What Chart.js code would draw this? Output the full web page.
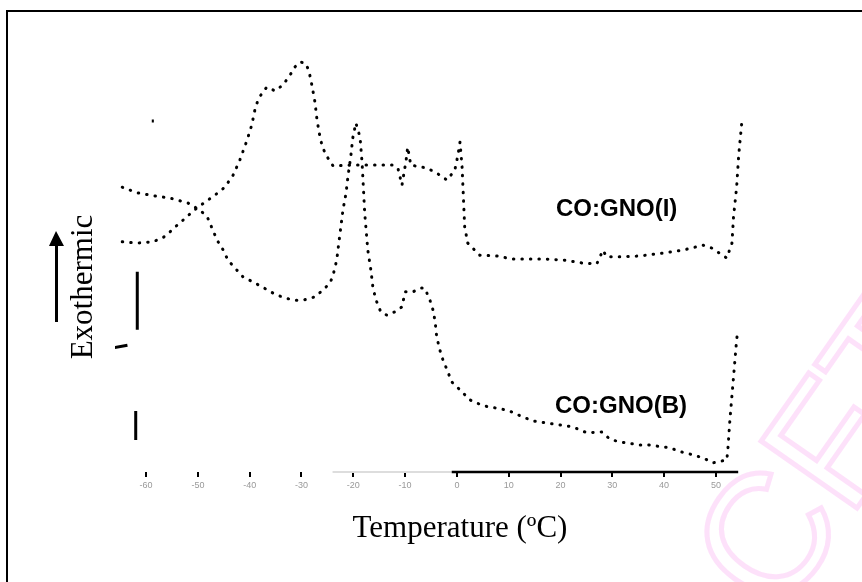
<!DOCTYPE html>
<html>
<head>
<meta charset="utf-8">
<script src="https://cdn.jsdelivr.net/npm/chart.js@4/dist/chart.umd.min.js"></script>
<style>
  html, body { margin: 0; padding: 0; background: #fff; overflow: hidden; }
  #wrap { position: relative; width: 862px; height: 582px; }
  #frame { position: absolute; left: 6px; top: 10px; width: 900px; height: 640px; border: 2px solid #000; box-sizing: border-box; }
  canvas { position: absolute; left: 0; top: 0; }
  .lbl { position: absolute; font-family: Arial, "Liberation Sans", sans-serif; font-weight: bold; font-size: 24px; color: #000; white-space: nowrap; }
  .serif { position: absolute; font-family: "Times New Roman", "Liberation Serif", serif; font-size: 31px; color: #000; white-space: nowrap; }
  #ylab { left: 82px; top: 287px; transform: translate(-50%, -50%) rotate(-90deg); }
  #xlab { left: 460px; top: 527px; transform: translate(-50%, -50%); }
  #arrow { position: absolute; left: 55px; top: 244px; width: 3px; height: 78px; background: #000; }
  #head { position: absolute; left: 49px; top: 231px; width: 0; height: 0; border-left: 7px solid transparent; border-right: 8px solid transparent; border-bottom: 15px solid #000; }
  #wm { position: absolute; left: 650px; top: 530px; font-family: Arial, sans-serif; font-size: 170px; color: transparent; -webkit-text-stroke: 5px rgba(252, 205, 247, 0.6); transform: rotate(-55deg); transform-origin: left top; white-space: nowrap; }
</style>
</head>
<body>
<div id="wrap">
  <div id="frame"></div>
  <div id="wm">CFTRI</div>
  <canvas id="chart" width="862" height="582"></canvas>
  <div class="lbl" style="left:556px; top:194px;">CO:GNO(I)</div>
  <div class="lbl" style="left:555px; top:391px;">CO:GNO(B)</div>
  <div class="serif" id="ylab">Exothermic</div>
  <div id="head"></div>
  <div id="arrow"></div>
  <div class="serif" id="xlab">Temperature (ºC)</div>
</div>
<script>
// temperature (°C) and heat flow (arbitrary units, exo up)
const tempI = [-64.6, -61.7, -58.7, -56.9, -56.0, -54.8, -51.5, -50.0, -46.7, -44.8, -43.2, -41.9, -40.5, -39.6, -39.0, -38.4, -37.6, -36.7, -35.1, -33.6, -32.2, -31.3, -30.3, -29.3, -28.6, -28.0, -27.4, -27.0, -26.4, -25.9, -24.9, -23.9, -20.3, -16.8, -12.5, -11.4, -10.6, -9.8, -9.5, -8.9, -5.8, -3.9, -1.9, -0.4, 0.2, 0.6, 1.0, 1.5, 2.1, 4.4, 7.7, 10.6, 13.5, 16.6, 20.8, 24.3, 27.0, 28.2, 28.9, 31.4, 35.3, 39.7, 43.6, 47.5, 49.2, 52.1, 53.1, 53.4, 54.0, 54.4, 55.0];
const flowI = [55.2, 54.9, 55.2, 56.1, 56.8, 58.3, 61.9, 63.5, 66.4, 68.3, 71.2, 74.8, 79.6, 83.2, 86.8, 89.2, 90.9, 92.3, 91.4, 92.8, 95.2, 97.1, 98.3, 98.1, 96.4, 92.8, 88.7, 84.4, 80.1, 77.7, 75.3, 73.4, 73.6, 73.6, 73.6, 72.9, 68.8, 74.8, 77.9, 73.6, 72.9, 71.7, 70.0, 72.4, 76.0, 79.1, 73.1, 58.8, 54.9, 52.0, 51.8, 51.1, 51.1, 51.1, 50.8, 50.1, 49.9, 53.2, 51.6, 51.6, 51.8, 52.5, 53.2, 54.4, 53.7, 51.3, 54.9, 61.2, 68.3, 76.0, 83.9];

const tempB = [-64.6, -63.1, -61.5, -58.3, -55.4, -51.9, -49.6, -48.2, -46.7, -46.1, -45.1, -44.2, -41.3, -39.4, -37.6, -35.5, -33.8, -31.6, -29.7, -27.4, -25.9, -24.5, -23.9, -23.2, -22.8, -22.4, -22.0, -21.4, -21.0, -20.5, -20.1, -19.5, -18.7, -18.3, -17.8, -17.2, -16.6, -16.2, -15.6, -14.7, -13.5, -12.0, -10.6, -10.0, -8.5, -7.1, -6.2, -5.2, -4.6, -4.2, -3.9, -3.3, -2.7, -1.9, -1.0, 0.6, 2.5, 3.9, 5.4, 8.7, 10.6, 12.7, 14.9, 22.4, 25.1, 28.0, 29.5, 31.4, 35.3, 36.9, 41.1, 43.4, 45.0, 47.5, 49.4, 52.1, 52.3, 52.7, 53.3, 54.0, 54.2];
const flowB = [68.3, 67.6, 66.9, 66.2, 65.7, 64.5, 62.8, 61.2, 56.8, 55.2, 53.2, 50.8, 46.8, 45.6, 44.4, 42.9, 42.0, 41.2, 41.2, 42.0, 43.6, 45.3, 47.2, 50.8, 54.9, 58.8, 62.8, 66.9, 71.2, 75.5, 80.1, 83.7, 80.3, 74.1, 62.1, 53.2, 48.4, 44.1, 41.2, 38.4, 37.6, 38.4, 39.6, 43.2, 43.2, 44.1, 44.1, 41.2, 38.8, 36.0, 32.4, 29.3, 26.9, 24.5, 21.6, 19.7, 17.3, 16.5, 15.8, 15.1, 14.4, 13.2, 12.2, 10.8, 9.4, 9.6, 7.9, 7.2, 6.5, 6.5, 5.8, 4.8, 4.3, 3.4, 2.2, 2.9, 5.3, 12.5, 21.3, 31.7, 33.6];

// start-up transient marks at the left edge (null = break)
const tempStart = [-61.7, -61.7, -61.7, -62.0, -62.0, -62.0, -66.2, -63.6, -63.6, -58.9, -58.5];
const flowStart = [48.0, 34.1, null, 14.6, 7.7, null, 29.8, 30.4, null, 84.2, 84.2];

const tickTemps = [-60, -50, -40, -30, -20, -10, 0, 10, 20, 30, 40, 50];

const pts = (xs, ys) => xs.map((x, i) => ({ x: x, y: ys[i] }));

const dotted = {
    borderColor: '#000',
    borderWidth: 3,
    borderDash: [0.5, 8],
    borderCapStyle: 'round',
    pointRadius: 0,
    tension: 0,
    fill: false
};

const axisLine = {
    id: 'axisLine',
    afterDatasetsDraw(chart) {
        const ctx = chart.ctx;
        const xs = chart.scales.x;
        const y = chart.chartArea.bottom;
        ctx.save();
        ctx.strokeStyle = '#ddd';
        ctx.lineWidth = 2;
        ctx.beginPath();
        ctx.moveTo(xs.getPixelForValue(-24), y);
        ctx.lineTo(xs.getPixelForValue(-1), y);
        ctx.stroke();
        ctx.strokeStyle = '#000';
        ctx.lineWidth = 2.5;
        ctx.beginPath();
        ctx.moveTo(xs.getPixelForValue(-1), y);
        ctx.lineTo(xs.getPixelForValue(54.3), y);
        ctx.stroke();
        ctx.restore();
    }
};

new Chart(document.getElementById('chart'), {
    type: 'line',
    data: {
        datasets: [
            Object.assign({ label: 'CO:GNO(I)', data: pts(tempI, flowI) }, dotted),
            Object.assign({ label: 'CO:GNO(B)', data: pts(tempB, flowB) }, dotted),
            { label: 'start', data: pts(tempStart, flowStart), borderColor: '#000', borderWidth: 3, pointRadius: 0, spanGaps: false }
        ]
    },
    options: {
        responsive: false,
        animation: false,
        layout: { padding: { left: 115, right: 115, top: 55, bottom: 0 } },
        plugins: { legend: { display: false }, tooltip: { enabled: false } },
        scales: {
            x: {
                type: 'linear',
                min: -66,
                max: 56,
                afterFit: function(scale) { scale.height = 110; },
                afterBuildTicks: function(scale) { scale.ticks = tickTemps.map(v => ({ value: v })); },
                border: { display: false },
                grid: { display: true, drawOnChartArea: false, drawTicks: true, tickLength: 5, color: '#000', lineWidth: 2 },
                ticks: { color: '#999', font: { size: 9 }, padding: 3, includeBounds: false }
            },
            y: { display: false, min: 0, max: 100 }
        }
    },
    plugins: [axisLine]
});
</script>
</body>
</html>
